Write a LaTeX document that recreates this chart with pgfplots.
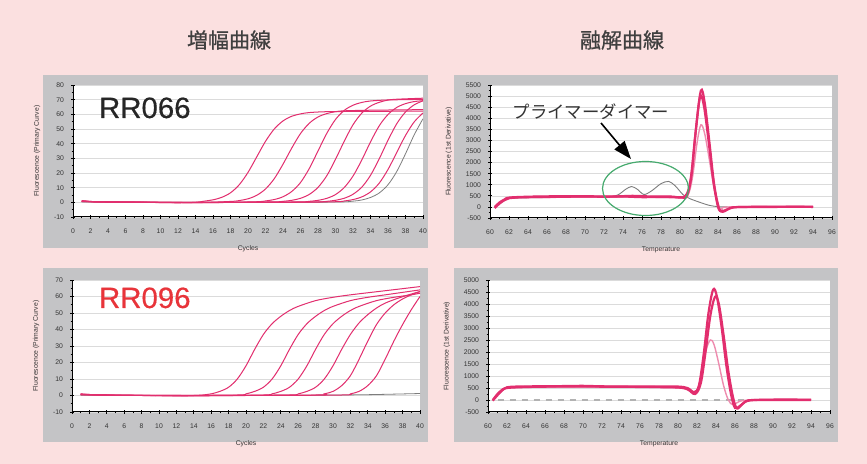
\documentclass[border=0pt]{standalone}
\usepackage{fontspec}
\setmainfont{Liberation Sans}
\newfontfamily\jp{Noto Sans CJK JP}
\newfontfamily\jpb{Noto Sans CJK JP}[FakeBold=0.8]
\newfontfamily\rrfont{Liberation Sans}[FakeBold=0.4]
\usepackage{pgfplots}
\pgfplotsset{compat=1.18}
\usetikzlibrary{arrows.meta}

\definecolor{bgpink}{RGB}{251,224,224}
\definecolor{panel}{RGB}{196,196,198}
\definecolor{curve}{RGB}{226,46,110}
\definecolor{curvelt}{RGB}{238,140,175}
\definecolor{dimer}{RGB}{125,125,125}
\definecolor{ring}{RGB}{70,170,110}
\definecolor{rrred}{RGB}{232,52,58}
\newcommand{\tk}{\fontsize{3.4}{3.8}\selectfont}

\pgfplotsset{
  qpcr/.style={
    scale only axis,
    axis background/.style={fill=white},
    axis x line*=bottom, axis y line*=left,
    axis line style={black, line width=0.5pt, -},
    tick align=center, major tick length=2pt, minor tick length=1.3pt,
    every tick/.style={black, line width=0.35pt},
    ymajorgrids, grid style={black!14, line width=0.3pt},
    tick label style={font=\tk, text=black!80},
    label style={font=\tk, text=black!80},
    xticklabel shift=1.5pt,
    xlabel style={yshift=1pt},
    /pgf/number format/assume math mode=true,
    /pgf/number format/1000 sep={},
    scaled ticks=false,
  },
  amp/.style={qpcr, xmin=0, xmax=40, xtick={0,2,...,40}, minor x tick num=1,
    minor y tick num=1, xlabel={Cycles}, ylabel={Fluorescence (Primary Curve)}},
  melt/.style={qpcr, xmin=60, xmax=96, xtick={60,62,...,96}, minor x tick num=1,
    minor y tick num=1, xlabel={Temperature}, ylabel={Fluorescence (1st Derivative)}},
  ac/.style={curve, line width=0.5pt, smooth},
  mc/.style={curve, line width=1.1pt, smooth, tension=0.55},
}

\begin{document}
\begin{tikzpicture}
\fill[bgpink] (0,0) rectangle (433.5pt,-232pt);
\path[use as bounding box] (0,0) rectangle (433.5pt,-232pt);
\fill[panel] (21.5pt,-37.5pt) rectangle (214pt,-124pt);
\fill[panel] (227pt,-37.5pt) rectangle (419pt,-124pt);
\fill[panel] (21.5pt,-134pt) rectangle (214pt,-221pt);
\fill[panel] (227pt,-134pt) rectangle (419pt,-221pt);
\node[font=\jpb\fontsize{10.5}{12}\selectfont, text=black!75] at (114.5pt,-20pt) {増幅曲線};
\node[font=\jpb\fontsize{10.5}{12}\selectfont, text=black!75] at (311pt,-20pt) {融解曲線};

% top left: amplification RR066
\begin{axis}[amp, at={(36.5pt,-108.5pt)}, anchor=south west, width=175pt, height=66pt,
  ymin=-10, ymax=80, ytick={-10,0,...,80}]
\addplot[dimer, line width=0.4pt, smooth] coordinates {(1,0.3)(10,0)(20,0)(30,0.2)(32,0.8)(33,1.6)(34,3.3)(35,6.4)(36,12.0)(37,21.0)(38,33.1)(39,46.1)(40,57.0)};
\addplot[ac] coordinates {(1,0.8)(2,0.4)(4,0.2)(8,0)(12,-0.3)(14,0)(15,0.8)(16,1.7)(17,3.4)(18,6.5)(19,12.0)(20,20.4)(21,31.0)(22,41.6)(23,50.0)(24,55.5)(25,58.7)(26,60.3)(27,61.2)(29,61.8)(33,62.0)(40,62.2)};
\addplot[ac] coordinates {(1,1.2)(3,0.3)(8,0.1)(14,-0.2)(18,0.6)(19,1.2)(20,2.4)(21,4.8)(22,9.1)(23,16.1)(24,26.0)(25,37.0)(26,46.9)(27,53.9)(28,58.2)(29,60.5)(30,61.8)(31,62.4)(34,62.8)(40,63.2)};
\addplot[ac] coordinates {(1,0.6)(4,0.2)(10,0)(16,-0.2)(21,0.4)(22,0.95)(23,1.9)(24,3.8)(25,7.4)(26,13.5)(27,23.0)(28,35.0)(29,47.0)(30,56.5)(31,62.7)(32,66.2)(33,68.1)(34,69.1)(36,69.8)(40,70.2)};
\addplot[ac] coordinates {(1,1.0)(3,0.4)(10,0)(18,0)(23,0.3)(24,0.67)(25,1.37)(26,2.74)(27,5.4)(28,10.2)(29,18.1)(30,29.3)(31,41.7)(32,52.9)(33,60.8)(34,65.6)(35,68.2)(36,69.7)(37,70.3)(40,71.0)};
\addplot[ac] coordinates {(1,0.5)(5,0.2)(12,-0.2)(20,0)(26,0.3)(27,0.67)(28,1.35)(29,2.7)(30,5.3)(31,10.1)(32,17.9)(33,28.8)(34,41.2)(35,52.2)(36,59.9)(37,64.7)(38,67.3)(39,68.7)(40,69.3)};
\addplot[ac] coordinates {(1,0.9)(3,0.3)(10,0)(22,0)(28,0.3)(29,0.68)(30,1.39)(31,2.78)(32,5.5)(33,10.3)(34,18.4)(35,29.7)(36,42.3)(37,53.6)(38,61.6)(39,66.5)(40,69.2)};
\addplot[ac] coordinates {(1,0.7)(4,0.3)(12,0)(24,0)(30,0.4)(31,0.92)(32,1.86)(33,3.7)(34,7.1)(35,13.1)(36,22.4)(37,34.0)(38,45.6)(39,54.9)(40,60.9)};
\end{axis}
\node[anchor=base west, font=\rrfont\fontsize{14.7}{16}\selectfont, text=black!85] at (46pt,-59pt) {RR066};

% top right: melting RR066
\begin{axis}[melt, at={(245pt,-109pt)}, anchor=south west, width=171pt, height=66.5pt,
  ymin=-500, ymax=5500, ytick={-500,0,...,5500}]
\addplot[dimer, line width=0.45pt, smooth] coordinates {(60.5,0)(61.5,280)(62,380)(65,420)(70,430)(72.5,440)(73.5,550)(74.3,800)(74.9,920)(75.5,800)(76.2,560)(77,720)(78,1050)(78.8,1150)(79.5,950)(80.3,560)(81,380)(82,220)(83,80)(84,10)(85,0)};
\addplot[mc, curvelt, line width=0.7pt] coordinates {(60.5,0)(61.5,300)(62,400)(66,430)(70,440)(75,450)(80,420)(80.8,500)(81.3,1300)(81.8,2900)(82.2,3700)(82.6,3300)(83.1,2100)(83.6,800)(84.1,0)(84.5,-150)(85.2,0)(94,0)};
\addplot[mc] coordinates {(60.5,0)(61,200)(61.5,330)(62,420)(64,460)(67,480)(70,480)(73,470)(75,500)(77,470)(79,470)(80.5,470)(81.1,1200)(81.6,3200)(82.1,4950)(82.5,4600)(83,3000)(83.5,1200)(84,0)(84.4,-200)(85,-100)(86,-10)(90,0)(94,10)};
\addplot[mc] coordinates {(60.5,-50)(61,150)(61.5,300)(62,390)(63,430)(64,440)(66,450)(68,460)(70,470)(72,460)(74,470)(76,440)(78,450)(80,440)(80.7,480)(81.2,1400)(81.7,3600)(82.2,5250)(82.6,4700)(83.1,2900)(83.6,1000)(84.1,-50)(84.5,-220)(85,-120)(85.6,-20)(87,0)(90,10)(94,0)};
\end{axis}
\draw[ring, line width=0.6pt] (322.75pt,-94.25pt) ellipse [x radius=21.5pt, y radius=13.5pt];
\draw[black, line width=0.8pt, -{Triangle[length=9pt,width=6.5pt]}] (300.5pt,-61.5pt) -- (315.5pt,-79.5pt);
\node[font=\jp\fontsize{8.7}{10}\selectfont, text=black!80] at (295.5pt,-56pt) {プライマーダイマー};

% bottom left: amplification RR096
\begin{axis}[amp, at={(36pt,-206pt)}, anchor=south west, width=174pt, height=66pt,
  ymin=-10, ymax=70, ytick={-10,0,...,70}]
\addplot[dimer, line width=0.4pt, smooth] coordinates {(1,0.2)(10,0)(20,0)(28,0.2)(34,0.5)(40,1.2)};
\addplot[ac] coordinates {(1,1.0)(2,0.6)(4,0.3)(8,0.1)(12,-0.3)(14,0)(15,0.3)(16,1)(17,2.5)(18,5)(19,10)(20,18)(21,28)(22,37)(23,43.5)(24,48)(25,51.5)(26,54)(28,57.5)(30,59.5)(32,61)(36,63.5)(40,66)};
\addplot[ac] coordinates {(1,0.6)(4,0.2)(10,0)(19,0.3)(20,1)(21,2.5)(22,5)(23,10)(24,18)(25,28)(26,37)(27,43.5)(28,48)(29,51.5)(30,54)(32,57.5)(34,59.5)(36,61)(40,64)};
\addplot[ac] coordinates {(1,0.8)(5,0.2)(14,-0.2)(22,0.3)(23,1)(24,2.5)(25,5)(26,10)(27,18)(28,28)(29,37)(30,43.5)(31,48)(32,51.5)(33,54)(35,57.5)(37,59.5)(39,61)(40,62)};
\addplot[ac] coordinates {(1,0.5)(6,0.1)(16,0)(25,0.3)(26,1)(27,2.5)(28,5)(29,10)(30,18)(31,28)(32,37)(33,44)(34,49)(35,53)(36,56)(37.5,59)(39,61.5)(40,63)};
\addplot[ac] coordinates {(1,0.9)(3,0.4)(12,0)(28,0.3)(29,1)(30,2.5)(31,6)(32,12)(33,22)(34,33)(35,43)(36,50)(37,55)(38,58.5)(39,61)(40,63)};
\addplot[ac] coordinates {(1,0.4)(8,0)(20,0)(31,0.3)(32,1)(33,2.5)(34,6)(35,12)(36,22)(37,33)(38,43)(39,52)(40,60)};
\end{axis}
\node[anchor=base west, font=\rrfont\fontsize{14.7}{16}\selectfont, text=rrred] at (46pt,-154pt) {RR096};

% bottom right: melting RR096
\begin{axis}[melt, at={(244pt,-206pt)}, anchor=south west, width=171pt, height=66pt,
  ymin=-500, ymax=5000, ytick={-500,0,...,5000}]
\addplot[black!30, line width=0.6pt, dashed] coordinates {(61,0)(94,0)};
\addplot[mc, curvelt, line width=0.7pt] coordinates {(60.5,0)(61.5,400)(62,500)(66,540)(70,550)(75,540)(80,500)(81,420)(81.8,300)(82.4,900)(82.9,2000)(83.4,2500)(83.8,2300)(84.3,1500)(84.8,600)(85.3,0)(85.8,-200)(86.5,-50)(88,0)(94,0)};
\addplot[mc] coordinates {(60.5,-30)(61,200)(61.5,400)(62,500)(64,540)(67,560)(70,560)(74,550)(77,540)(80,520)(81,450)(81.8,250)(82.4,700)(82.9,2000)(83.4,3500)(83.9,4300)(84.3,4000)(84.8,2700)(85.3,1200)(85.8,100)(86.2,-350)(86.7,-200)(87.5,-20)(90,0)(94,0)};
\addplot[mc] coordinates {(60.5,0)(61,250)(61.5,430)(62,530)(63,560)(65,570)(68,580)(70,590)(72,570)(75,560)(78,560)(80,560)(81,500)(81.7,330)(82.2,600)(82.7,1900)(83.2,3600)(83.7,4600)(84.1,4300)(84.6,3000)(85.1,1400)(85.6,200)(86,-330)(86.5,-250)(87.2,-40)(88,0)(91,20)(94,10)};
\end{axis}
\end{tikzpicture}
\end{document}
